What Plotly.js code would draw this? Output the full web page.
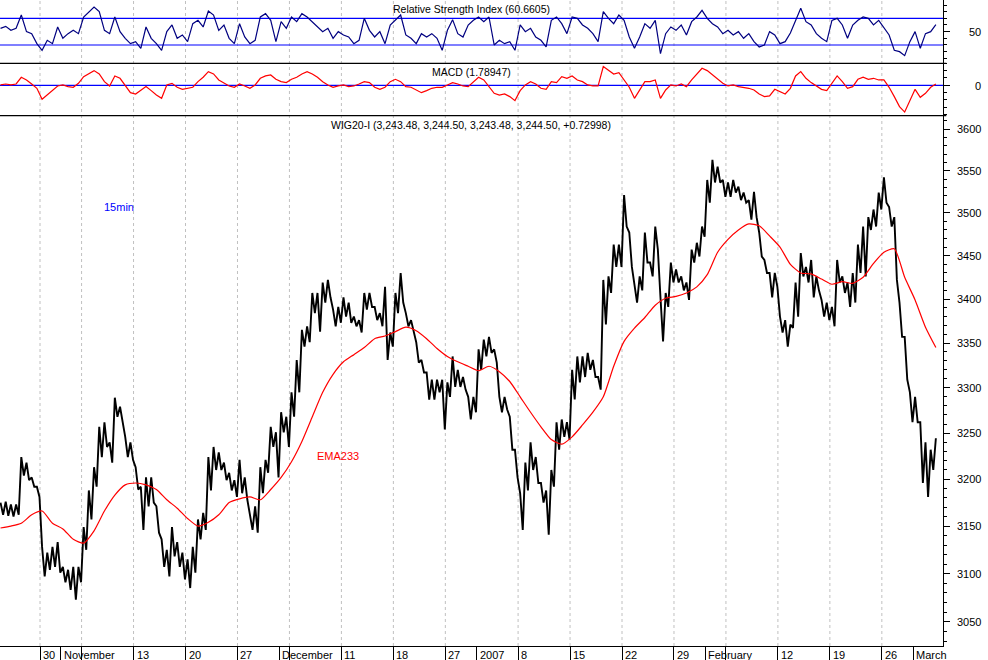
<!DOCTYPE html>
<html>
<head>
<meta charset="utf-8">
<script src="https://cdn.plot.ly/plotly-3.0.1.min.js"></script>
<style>html,body{margin:0;padding:0;background:#fff;}#chart{width:988px;height:660px;}</style>
</head>
<body>
<div id="chart"></div>
<script>
// ---- time axis: trading-day index (Oct 26 2006 = 0), half-day sampling ----
const DAY_START = -1.8;
const HALF_DAY = 0.5;

// x-axis labels (trading-day index of each labelled tick)
const TICK_DAYS = [2, 4, 11, 16, 21, 25, 31, 36, 41, 44, 48, 53, 58, 63, 66, 73, 78, 83, 86];
const TICK_LABELS = ['30','November','13','20','27','December','11','18','27','2007','8','15','22','29','February','12','19','26','March'];
// weekly dashed grid lines (first trading day of week)
const GRID_DAYS = [2, 6, 11, 16, 21, 26, 31, 36, 41, 48, 53, 58, 63, 68, 73, 78, 83];

// WIG20 15min: half-day highs and lows
const PRICE_HI = [3175,3176,3173,3173,3224,3218,3202,3192,3128,3122,
 3128,3133,3107,3104,3107,3107,3149,3188,3213,3257,
 3262,3240,3289,3279,3246,3240,3213,3192,3202,3202,
 3171,3136,3125,3149,3133,3122,3115,3128,3157,3164,
 3224,3235,3229,3218,3207,3199,3221,3202,3164,3171,
 3213,3221,3257,3251,3273,3268,3295,3331,3365,3369,
 3407,3407,3419,3422,3388,3391,3402,3396,3380,3376,
 3407,3407,3391,3384,3414,3362,3407,3430,3384,3376,
 3351,3331,3317,3309,3309,3309,3306,3335,3320,3312,
 3290,3290,3343,3354,3357,3343,3290,3290,3268,3232,
 3185,3218,3240,3224,3196,3188,3210,3262,3265,3262,
 3320,3335,3335,3339,3331,3312,3422,3426,3463,3463,
 3521,3477,3419,3426,3477,3442,3484,3402,3407,3442,
 3434,3426,3419,3457,3465,3484,3539,3563,3555,3539,
 3536,3539,3531,3524,3515,3525,3477,3445,3430,3430,
 3380,3376,3371,3419,3453,3437,3445,3426,3399,3396,
 3391,3445,3426,3419,3430,3463,3484,3495,3504,3524,
 3542,3507,3495,3396,3357,3295,3290,3262,3240,3232];
const PRICE_LO = [3162,3161,3160,3162,3204,3199,3192,3181,3097,3104,
 3107,3101,3091,3083,3073,3091,3125,3157,3192,3224,
 3235,3218,3268,3262,3224,3221,3189,3146,3171,3175,
 3143,3107,3097,3118,3107,3094,3085,3101,3136,3146,
 3188,3210,3210,3199,3188,3181,3185,3178,3146,3143,
 3185,3207,3235,3202,3251,3235,3268,3295,3346,3351,
 3384,3363,3396,3402,3369,3373,3380,3373,3369,3362,
 3388,3391,3376,3369,3331,3346,3384,3396,3369,3362,
 3328,3317,3287,3287,3295,3254,3290,3301,3301,3298,
 3265,3273,3320,3335,3339,3328,3273,3276,3232,3202,
 3146,3188,3210,3196,3175,3141,3192,3232,3246,3243,
 3287,3306,3312,3320,3312,3298,3371,3407,3437,3437,
 3484,3437,3396,3410,3442,3426,3457,3352,3391,3419,
 3419,3410,3399,3442,3449,3472,3512,3536,3536,3519,
 3519,3524,3515,3512,3492,3495,3449,3430,3402,3414,
 3362,3346,3367,3380,3426,3419,3402,3410,3380,3376,
 3369,3419,3407,3391,3396,3430,3426,3480,3484,3504,
 3512,3484,3422,3357,3309,3262,3262,3196,3181,3210];
const LAST_CLOSE = 3244.50;

// EMA233, one value per trading day
const EMA233 = [3148,3150,3153,3162,3166,3153,3147,3136,3132,3145,
 3166,3183,3194,3196,3194,3189,3178,3169,3158,3150,
 3154,3162,3175,3179,3181,3178,3189,3202,3219,3241,
 3268,3295,3315,3329,3337,3345,3355,3358,3363,3368,
 3364,3355,3344,3335,3329,3324,3319,3324,3318,3307,
 3290,3273,3257,3243,3238,3246,3259,3273,3290,3324,
 3352,3367,3379,3393,3401,3403,3407,3414,3428,3454,
 3469,3480,3487,3485,3473,3460,3440,3430,3429,3423,
 3417,3420,3418,3425,3441,3454,3458,3425,3399,3368,
 3345];

// RSI, half-day samples
const RSI = [55,58,52,55,75,50,47,32,22,37,
 32,57,40,47,52,47,72,80,87,80,
 52,47,72,50,40,32,35,25,57,40,
 32,22,50,60,40,45,35,62,67,57,
 81,75,52,60,40,32,62,42,32,37,
 72,77,67,35,65,55,72,65,77,72,
 65,57,50,55,40,50,45,42,32,37,
 70,52,42,50,32,60,67,75,45,40,
 32,47,42,47,40,22,52,68,47,42,
 60,67,72,65,72,30,37,32,35,22,
 60,50,55,42,37,27,67,72,62,47,
 72,70,60,55,47,35,80,70,62,75,
 67,42,25,42,62,55,67,17,47,57,
 52,60,45,65,72,82,70,62,57,47,
 52,45,50,40,47,35,27,30,50,45,
 32,35,48,67,85,65,60,47,40,35,
 67,70,60,40,60,67,72,70,60,67,
 55,45,22,20,14,35,50,25,47,50,
 60.6605];

// MACD, half-day samples
const MACD = [0.5,1.8,0.5,1.8,11.0,7.3,1.8,-4.1,-19.2,-13.3,
 -7.3,-0.9,0.5,-1.8,-2.7,2.7,11.9,15.5,20.1,15.5,
 5.0,-0.9,12.8,9.6,0.5,-10.1,-11.9,-7.3,-1.8,-7.3,
 -13.3,-17.8,0.5,2.7,-2.7,-5.5,-4.1,-2.7,5.0,11.0,
 18.7,15.5,7.3,2.7,-0.9,-2.7,1.8,-0.9,-4.1,0.5,
 9.6,12.8,14.2,8.2,5.0,3.7,8.2,11.0,15.5,18.7,
 15.5,11.0,5.0,0.5,-2.7,-0.9,0.5,-1.8,-0.9,1.8,
 5.0,3.7,-2.7,-5.5,-2.7,5.0,8.2,5.0,-1.8,-2.7,
 -6.4,-10.1,-7.3,-4.1,-2.7,-2.7,0.5,3.7,1.8,-0.9,
 -1.8,5.0,11.0,7.3,-2.7,-11.0,-13.3,-11.9,-15.5,-21.0,
 -7.3,0.5,5.0,1.8,-4.1,-5.5,5.0,3.7,11.9,9.6,
 12.8,7.3,5.0,0.5,-0.9,-0.9,25.6,20.1,15.5,17.4,
 7.3,-2.7,-17.8,-5.5,5.0,5.0,7.3,-17.8,-6.4,0.5,
 -0.9,1.8,-1.8,7.3,15.5,23.3,20.1,14.2,8.2,2.7,
 -0.9,0.5,-1.8,-2.7,-4.1,-6.4,-11.9,-15.5,-14.6,-5.5,
 -8.7,-11.9,-4.1,12.8,18.7,9.6,3.7,-0.9,-5.5,-7.3,
 2.7,12.8,5.0,-4.1,-1.8,8.2,11.0,8.2,9.6,7.3,
 7.3,-2.7,-15.5,-29.2,-36.6,-20.1,-5.5,-16.4,-11.0,-2.7,
 1.78947];

const PRICE_TICKS = [3050,3100,3150,3200,3250,3300,3350,3400,3450,3500,3550,3600];
const RSI_TICKS = [50];
const MACD_TICKS = [0];

// ---- build traces ----
const halfDays = RSI.map((_, i) => DAY_START + i * HALF_DAY);
const emaDays = EMA233.map((_, i) => DAY_START + i);
const px = [], py = [];
PRICE_HI.forEach((h, i) => {
  const d = DAY_START + i * HALF_DAY;
  px.push(d); py.push(h);
  px.push(d + HALF_DAY / 2); py.push(PRICE_LO[i]);
});
px.push(DAY_START + PRICE_HI.length * HALF_DAY); py.push(LAST_CLOSE);

const traces = [
  {x: px, y: py, type: 'scatter', mode: 'lines', line: {color: '#000000', width: 1.9}, xaxis: 'x', yaxis: 'y', hoverinfo: 'skip'},
  {x: emaDays, y: EMA233, type: 'scatter', mode: 'lines', line: {color: '#ff0000', width: 1.2, shape: 'spline', smoothing: 0.6}, xaxis: 'x', yaxis: 'y', hoverinfo: 'skip'},
  {x: halfDays, y: MACD, type: 'scatter', mode: 'lines', line: {color: '#ff0000', width: 1.2}, xaxis: 'x', yaxis: 'y2', hoverinfo: 'skip'},
  {x: halfDays, y: RSI, type: 'scatter', mode: 'lines', line: {color: '#000080', width: 1.2}, xaxis: 'x', yaxis: 'y3', hoverinfo: 'skip'}
];

const minorPrice = [];
for (let v = 3030; v <= 3610; v += 10) if (v % 50 !== 0) minorPrice.push(v);

const shapes = [];
GRID_DAYS.forEach(d => shapes.push({type: 'line', xref: 'x', yref: 'paper', x0: d, x1: d, y0: 0, y1: 1,
  line: {color: '#c0c0c0', width: 1, dash: '3px,3px'}, layer: 'below'}));
[30, 70].forEach(v => shapes.push({type: 'line', xref: 'paper', yref: 'y3', x0: 0, x1: 1, y0: v, y1: v, line: {color: '#0000ff', width: 1.2}, layer: 'below'}));
shapes.push({type: 'line', xref: 'paper', yref: 'y2', x0: 0, x1: 1, y0: 0, y1: 0, line: {color: '#0000ff', width: 1.2}, layer: 'below'});
[0.9020, 0.8209].forEach(v => shapes.push({type: 'line', xref: 'paper', yref: 'paper', x0: 0, x1: 1.0035, y0: v, y1: v, line: {color: '#000000', width: 1.2}}));

const annotations = TICK_DAYS.map((d, i) => ({x: d, xref: 'x', y: -0.0135, yref: 'paper', xanchor: 'left', yanchor: 'middle',
  xshift: 1, text: TICK_LABELS[i], showarrow: false, font: {size: 11, color: '#000'}}));
// right-aligned axis labels
const LABEL_X = 983 / 943;
PRICE_TICKS.forEach(v => annotations.push({x: LABEL_X, xref: 'paper', y: Math.log10(v), yref: 'y', xanchor: 'right', yanchor: 'middle',
  text: String(v), showarrow: false, font: {size: 11, color: '#000'}}));
RSI_TICKS.forEach(v => annotations.push({x: LABEL_X, xref: 'paper', y: v, yref: 'y3', xanchor: 'right', yanchor: 'middle',
  text: String(v), showarrow: false, font: {size: 11, color: '#000'}}));
MACD_TICKS.forEach(v => annotations.push({x: LABEL_X, xref: 'paper', y: v, yref: 'y2', xanchor: 'right', yanchor: 'middle',
  yshift: -1, text: String(v), showarrow: false, font: {size: 11, color: '#000'}}));

const mid = 0.4995;
annotations.push({x: mid, xref: 'paper', y: 0.986, yref: 'paper', text: 'Relative Strength Index (' + RSI[RSI.length - 1].toFixed(4) + ')', showarrow: false, xanchor: 'center', yanchor: 'middle', font: {size: 10.5, color: '#000'}});
annotations.push({x: mid, xref: 'paper', y: 0.8885, yref: 'paper', text: 'MACD (' + MACD[MACD.length - 1].toFixed(5) + ')', showarrow: false, xanchor: 'center', yanchor: 'middle', font: {size: 10.5, color: '#000'}});
annotations.push({x: mid, xref: 'paper', y: 0.8065, yref: 'paper', text: 'WIG20-I (3,243.48, 3,244.50, 3,243.48, 3,244.50, +0.72998)', showarrow: false, xanchor: 'center', yanchor: 'middle', font: {size: 10.5, color: '#000'}});
annotations.push({x: 0.1082, xref: 'paper', y: 0.6796, yref: 'paper', text: '15min', showarrow: false, xanchor: 'left', yanchor: 'middle', font: {size: 11, color: '#0000ff'}});
annotations.push({x: 0.334, xref: 'paper', y: 0.2941, yref: 'paper', text: 'EMA233', showarrow: false, xanchor: 'left', yanchor: 'middle', font: {size: 11, color: '#ff0000'}});

const yCommon = {side: 'right', anchor: 'x', showline: true, linecolor: '#000', linewidth: 1, ticks: 'outside', ticklen: 6,
  tickcolor: '#000', showgrid: false, zeroline: false, fixedrange: true, showticklabels: false};

const layout = {
  width: 988, height: 660,
  margin: {l: 0, r: 45, t: 0, b: 14, pad: 0},
  paper_bgcolor: '#ffffff', plot_bgcolor: '#ffffff',
  showlegend: false,
  font: {family: '"Liberation Sans", Arial, sans-serif', size: 11, color: '#000'},
  xaxis: {range: [-1.849, 88.886], anchor: 'y', showgrid: false, zeroline: false, showline: true, linecolor: '#000', linewidth: 1,
    tickvals: TICK_DAYS.concat(GRID_DAYS), ticks: 'outside', ticklen: 14, tickcolor: '#000', showticklabels: false, fixedrange: true},
  yaxis: Object.assign({}, yCommon, {domain: [0, 0.8209], type: 'log', range: [3.48079, 3.55827],
    tickvals: PRICE_TICKS,
    minor: {tickvals: minorPrice, ticks: 'outside', ticklen: 3, tickcolor: '#000'}}),
  yaxis2: Object.assign({}, yCommon, {domain: [0.8209, 0.9020], range: [-41.6, 30.1],
    tickvals: MACD_TICKS,
    minor: {tickvals: [-40, -30, -20, -10, 10, 20, 30], ticks: 'outside', ticklen: 3, tickcolor: '#000'}}),
  yaxis3: Object.assign({}, yCommon, {domain: [0.9020, 1], range: [2.5, 97.5],
    tickvals: RSI_TICKS,
    minor: {tickvals: [10, 20, 30, 40, 60, 70, 80, 90], ticks: 'outside', ticklen: 3, tickcolor: '#000'}}),
  shapes: shapes,
  annotations: annotations
};

Plotly.newPlot('chart', traces, layout, {displayModeBar: false, staticPlot: true});
</script>
</body>
</html>
